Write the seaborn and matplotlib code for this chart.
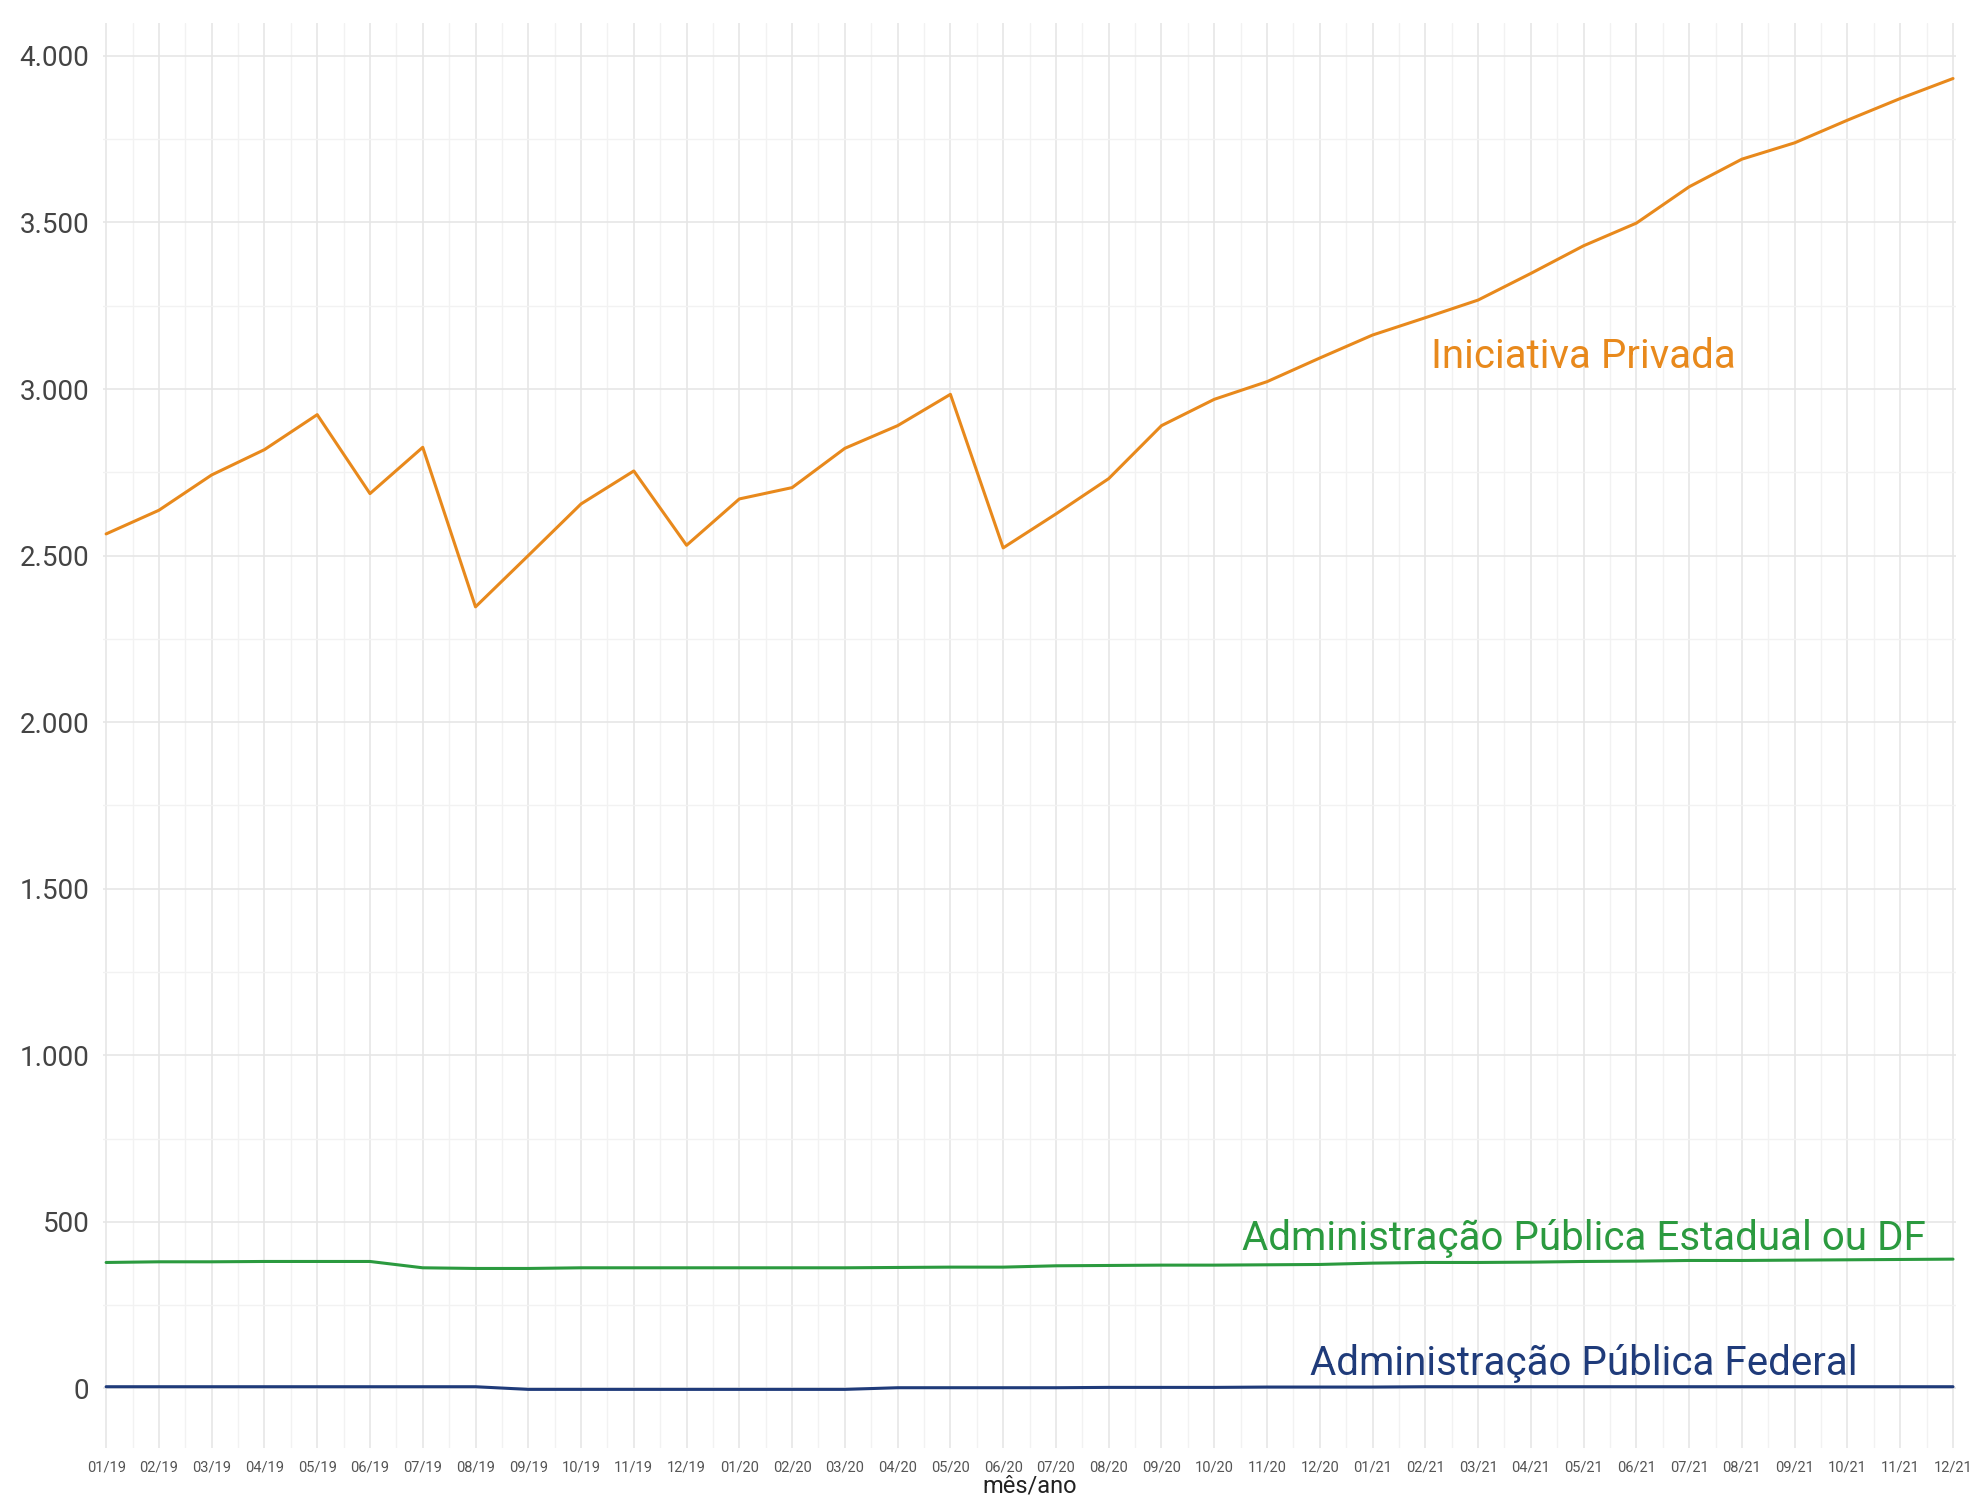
import pandas as pd
import matplotlib.pyplot as plt
import matplotlib.ticker as mticker
import seaborn as sns

# meses (jan/2019 a dez/2021)
meses = ['01/19', '02/19', '03/19', '04/19', '05/19', '06/19', '07/19', '08/19', '09/19', '10/19', '11/19', '12/19',
         '01/20', '02/20', '03/20', '04/20', '05/20', '06/20', '07/20', '08/20', '09/20', '10/20', '11/20', '12/20',
         '01/21', '02/21', '03/21', '04/21', '05/21', '06/21', '07/21', '08/21', '09/21', '10/21', '11/21', '12/21']

privada = [2565, 2636, 2742, 2818, 2923, 2686, 2825, 2346, 2500, 2655, 2754, 2531,
           2670, 2704, 2822, 2890, 2984, 2523, 2625, 2731, 2890, 2969, 3022, 3093,
           3162, 3214, 3267, 3347, 3430, 3498, 3607, 3690, 3739, 3807, 3872, 3932]

estadual = [378, 380, 380, 381, 381, 381, 362, 360, 360, 362, 362, 362,
            362, 362, 362, 363, 364, 364, 368, 369, 370, 370, 371, 372,
            376, 378, 378, 379, 381, 382, 384, 384, 385, 386, 387, 388]

federal = [5, 5, 5, 5, 5, 5, 5, 5, -3, -3, -3, -3,
           -3, -3, -3, 2, 2, 2, 2, 3, 3, 3, 4, 4,
           4, 5, 5, 5, 5, 5, 5, 5, 5, 5, 5, 5]

series = ['Iniciativa Privada', 'Administração Pública Estadual ou DF', 'Administração Pública Federal']
cores = ['#E8891C', '#2B9A3F', '#1F3B7A']

df = pd.DataFrame({'mes': list(range(len(meses))) * 3,
                   'valor': privada + estadual + federal,
                   'serie': [series[0]] * 36 + [series[1]] * 36 + [series[2]] * 36})

sns.set_style('white')
plt.rcParams['font.family'] = ['Roboto', 'DejaVu Sans']

fig = plt.figure(figsize=(19.75, 15.04), dpi=100)
ax = fig.add_axes([0.0524, 0.037, 0.9378, 0.948])

sns.lineplot(data=df, x='mes', y='valor', hue='serie', palette=cores, linewidth=2.2, legend=False, ax=ax)

# grid
ax.set_xticks(range(len(meses)))
ax.set_xticks([i + 0.5 for i in range(len(meses) - 1)], minor=True)
ax.set_yticks(range(0, 4001, 500))
ax.set_yticks(range(250, 4001, 500), minor=True)
ax.grid(which='major', color='#e6e6e6', linewidth=1.2)
ax.grid(which='minor', color='#f2f2f2', linewidth=1.0)
ax.set_axisbelow(True)
for s in ax.spines.values():
    s.set_visible(False)

ax.set_xlim(-0.05, 35.05)
ax.set_ylim(-180, 4100)

ax.set_xticklabels(meses, fontsize=10.5, color='#555555')
ax.yaxis.set_major_formatter(mticker.FuncFormatter(lambda v, p: f'{int(v):,}'.replace(',', '.')))
ax.tick_params(axis='y', labelsize=20, colors='#444444', length=0, pad=10)
ax.tick_params(axis='x', length=0, pad=9)
ax.set_xlabel('mês/ano', fontsize=17, color='#222222', labelpad=0)
ax.set_ylabel('')

# rótulos das linhas
ax.text(28, 3097, series[0], color=cores[0], fontsize=29, ha='center', va='center')
ax.text(28, 450, series[1], color=cores[1], fontsize=29, ha='center', va='center')
ax.text(28, 75, series[2], color=cores[2], fontsize=29, ha='center', va='center')

plt.savefig('out.png', dpi=100)
